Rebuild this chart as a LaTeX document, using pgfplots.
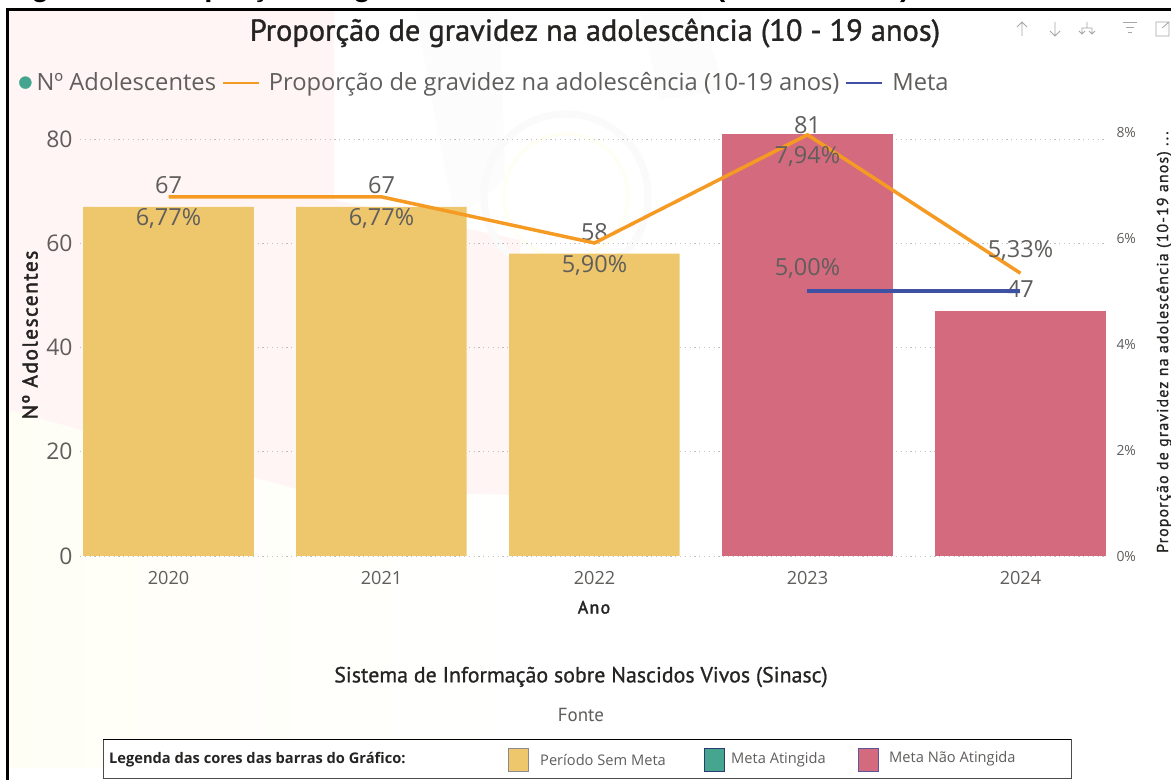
\documentclass[border=0pt]{standalone}
\usepackage{pgfplots}
\pgfplotsset{compat=1.18}
\usepackage{fontspec}
\setmainfont{Open Sans}
\newfontfamily\titlefont[FakeBold=1.2]{PT Sans}
\newfontfamily\sourcefont[FakeBold=0.8]{PT Sans}
\newfontfamily\plainfont{PT Sans}
\newfontfamily\spacedbold[FakeBold=2,LetterSpace=7]{PT Sans}
\newfontfamily\spacedmed[FakeBold=1,LetterSpace=7]{PT Sans}
\newfontfamily\capfont{Liberation Sans}
\definecolor{barY}{HTML}{EEC76D}
\definecolor{barR}{HTML}{D46A7E}
\definecolor{barG}{HTML}{45A58F}
\definecolor{lineO}{HTML}{F59B23}
\definecolor{lineB}{HTML}{3F51A3}
\definecolor{txt}{HTML}{605E5C}
\definecolor{dark}{HTML}{252423}
\definecolor{pinkbg}{HTML}{FFF5F4}
\definecolor{creambg}{HTML}{FFFEF5}
\pgfplotstableread{
x y lab
0 67 67
1 67 67
2 58 58
}\yellowbars
\pgfplotstableread{
x y lab
3 81 81
}\redbarA
\pgfplotstableread{
x y lab
4 47 47
}\redbarB
\pgfplotstableread{
x y lab
0 6.77 {6,77\%}
1 6.77 {6,77\%}
2 5.90 {5,90\%}
3 7.94 {7,94\%}
4 5.33 {}
}\prop
\pgfplotstableread{
x y lab
4 5.33 {5,33\%}
}\propup
\pgfplotstableread{
x y lab
3 5.00 {5,00\%}
4 5.00 {}
}\meta
\begin{document}
\begin{tikzpicture}[x=1bp,y=1bp,font=\fontsize{16}{18}\selectfont]
\path[use as bounding box] (0,0) rectangle (1171,780);
\fill[white] (0,0) rectangle (1171,780);
% background tints
\shade[left color=creambg,right color=white] (9,12) -- (520,12) -- (520,285) -- (300,290) -- (9,370) -- cycle;
\fill[pinkbg] (9,770) -- (334,770) -- (334,580) -- (520,540) -- (520,285) -- (300,290) -- (9,370) -- cycle;
\fill[black!1.2] (415,770) -- (500,770) -- (505,600) -- (455,560) -- cycle;
\fill[black!1.2] (640,770) -- (700,770) -- (725,690) -- (660,680) -- cycle;
\draw[black!1.8,line width=7bp] (566,584) circle (82);
\draw[yellow!5,line width=3bp] (566,584) circle (62);
% clipped caption and frame
\node[anchor=base west,inner sep=0pt,font=\fontsize{29.5}{32}\selectfont\capfont\bfseries,text=black] at (5,783) {Figura 1 -- Proporção de gravidez na adolescência (10 a 19 anos)};
\draw[black,line width=3bp] (7.4,0) -- (7.4,770.5) -- (1171,770.5);
% bars
\begin{axis}[
  at={(80bp,224bp)},anchor=south west,
  scale only axis,width=1026bp,height=417bp,
  xmin=-0.4155,xmax=4.4014,ymin=0,ymax=80,
  clip=false,
  axis line style={draw=none},
  tick style={draw=none},
  xtick={0,1,2,3,4},
  xticklabels={2020,2021,2022,2023,2024},
  ytick={0,20,40,60,80},
  ymajorgrids,
  grid style={dash pattern=on 1.2bp off 3.6bp,line width=0.9bp,color=black!25},
  x tick label style={font=\fontsize{18.2}{20}\selectfont,text=txt,yshift=-8bp},
  y tick label style={font=\fontsize{23}{25}\selectfont,text=txt,xshift=-4bp},
  /pgf/number format/assume math mode=true,
  xlabel={Ano},
  ylabel={Nº Adolescentes},
  xlabel style={font=\fontsize{18}{21}\selectfont\spacedbold,text=dark,at={(axis description cs:0.501,-0.123)},anchor=center},
  ylabel style={font=\fontsize{21.5}{23}\selectfont\spacedbold,text=dark,at={(axis description cs:-0.0487,0.53)},anchor=center},
  ybar,bar width=170.5bp,
]
\addplot[fill=barY,draw=none,bar shift=0pt,point meta=explicit symbolic,nodes near coords,
  nodes near coords style={font=\fontsize{23.6}{25}\selectfont,text=txt,inner sep=0pt,anchor=center,yshift=22bp}] table[x=x,y=y,meta=lab] {\yellowbars};
\addplot[fill=barR,draw=none,bar shift=0pt,point meta=explicit symbolic,nodes near coords,
  nodes near coords style={font=\fontsize{23.6}{25}\selectfont,text=txt,inner sep=0pt,anchor=center,yshift=9bp}] table[x=x,y=y,meta=lab] {\redbarA};
\addplot[fill=barR,draw=none,bar shift=0pt,point meta=explicit symbolic,nodes near coords,
  nodes near coords style={font=\fontsize{23.6}{25}\selectfont,text=txt,inner sep=0pt,anchor=center,yshift=22bp}] table[x=x,y=y,meta=lab] {\redbarB};
\end{axis}
% lines on the secondary axis
\begin{axis}[
  at={(80bp,224bp)},anchor=south west,
  scale only axis,width=1026bp,height=424.4bp,
  xmin=-0.4155,xmax=4.4014,ymin=0,ymax=8,
  clip=false,
  axis line style={draw=none},
  tick style={draw=none},
  axis x line=none,
  axis y line*=right,
  ytick={0,2,4,6,8},
  yticklabel={\pgfmathprintnumber{\tick}\%},
  y tick label style={font=\fontsize{14}{16}\selectfont,text=txt,xshift=7bp,yshift=-1bp},
  /pgf/number format/assume math mode=true,
  ylabel={Proporção de gravidez na adolescência (10-19 anos) ...},
  ylabel style={font=\fontsize{16}{18}\selectfont\spacedmed,text=dark,at={(axis description cs:1.0566,0.504)},anchor=center},
  legend style={at={(axis description cs:-0.0595,1.1154)},anchor=west,draw=none,fill=none,legend columns=-1,
    font=\fontsize{23.8}{26}\selectfont,text=txt,inner sep=0pt,
    /tikz/every even column/.append style={column sep=4bp},
    /tikz/every odd column/.append style={column sep=3bp}},
  legend cell align=left,
]
\addlegendimage{legend image code/.code={\fill[barG] (6bp,0bp) circle (6bp);}}
\addlegendentry{Nº Adolescentes}
\addplot[lineO,line width=3.5bp,point meta=explicit symbolic,nodes near coords,
  legend image code/.code={\draw[lineO,line width=2bp] (0bp,0bp) -- (36bp,0bp);\path (39bp,0bp);},
  nodes near coords style={font=\fontsize{23.6}{25}\selectfont,text=txt,inner sep=0pt,anchor=center,yshift=-22bp}] table[x=x,y=y,meta=lab] {\prop};
\addlegendentry{Proporção de gravidez na adolescência (10-19 anos)}
\addplot[lineB,line width=3.8bp,point meta=explicit symbolic,nodes near coords,
  legend image code/.code={\draw[lineB,line width=2bp] (0bp,0bp) -- (36bp,0bp);\path (39bp,0bp);},
  nodes near coords style={font=\fontsize{23.6}{25}\selectfont,text=txt,inner sep=0pt,anchor=center,yshift=22bp}] table[x=x,y=y,meta=lab] {\meta};
\addlegendentry{Meta}
\addplot[draw=none,forget plot,point meta=explicit symbolic,nodes near coords,
  nodes near coords style={font=\fontsize{23.6}{25}\selectfont,text=txt,inner sep=0pt,anchor=center,yshift=23bp}] table[x=x,y=y,meta=lab] {\propup};
\end{axis}
% title, source
\node[font=\fontsize{30.5}{33}\selectfont\titlefont,text=dark] at (595,747) {Proporção de gravidez na adolescência (10 - 19 anos)};
\node[font=\fontsize{22}{24}\selectfont\sourcefont,text=dark] at (581,103) {Sistema de Informação sobre Nascidos Vivos (Sinasc)};
\node[font=\fontsize{19}{21}\selectfont\plainfont,text=txt] at (581,65.5) {Fonte};
% toolbar
\begin{scope}[draw=black!35,line width=0.8bp]
\draw (1022,744) -- (1022,758) (1017,753) -- (1022,758) -- (1027,753);
\draw (1055,758) -- (1055,744) (1050,749) -- (1055,744) -- (1060,749);
\draw (1082,746) -- (1082,752) -- (1092,752) -- (1092,746) (1087,752)--(1087,758) (1079,749)--(1082,746)--(1085,749) (1089,749)--(1092,746)--(1095,749);
\draw (1123,758) -- (1137,758) (1126,753) -- (1134,753) (1128,748) -- (1132,748);
\draw (1156,744) rectangle (1169,758) (1162,752) -- (1169,758);
\end{scope}
% bottom legend box
\fill[white] (103,1) rectangle (1071,40);
\draw[black!70,line width=1bp] (103,1) rectangle (1071,40.5);
\draw[black,line width=1bp] (103,40.5) -- (1071,40.5);
\node[anchor=west,inner sep=0pt,font=\fontsize{14.7}{17}\selectfont\bfseries,text=dark] at (109,20.5) {Legenda das cores das barras do Gráfico:};
\foreach \xx/\cc/\bb/\tx/\yy/\ll in {508/barY/black!45/540/20/Período Sem Meta,704/barG/lineB!70!black/731/20/Meta Atingida,858/barR/lineB!80!barR/889/21.5/Meta Não Atingida}{
  \fill[\cc,draw=\bb,line width=1bp] (\xx,8.5) rectangle ++(20,23);
  \node[anchor=west,inner sep=0pt,font=\fontsize{14.7}{16}\selectfont,text=txt] at (\tx,\yy) {\ll};
}
\end{tikzpicture}
\end{document}
